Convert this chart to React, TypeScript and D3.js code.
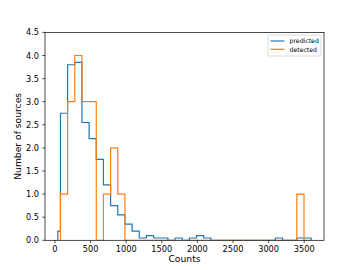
import React from "react";
import * as d3 from "d3";

// histogram bins (counts), shared by both series
const binStart = 77;
const binWidth = 100.6;
const binCount = 35;

// predicted: one short leading bin, then the regular bins
const predictedLead = [40, 0.2];
const predicted = [
  2.75, 3.8, 3.85, 2.55, 2.2, 1.75, 1.2, 0.75, 0.55, 0.35,
  0.2, 0.05, 0.1, 0.05, 0.05, 0, 0.05, 0, 0.05, 0.1,
  0.05, 0, 0, 0, 0, 0, 0, 0, 0, 0,
  0.05, 0, 0, 0.05, 0.05,
];
const detected = [
  1, 3, 4, 3, 3, 0, 1, 2, 1, 0,
  0, 0, 0, 0, 0, 0, 0, 0, 0, 0,
  0, 0, 0, 0, 0, 0, 0, 0, 0, 0,
  0, 0, 0, 1, 0,
];

const xTicks = [0, 500, 1000, 1500, 2000, 2500, 3000, 3500];
const yTicks = [0, 0.5, 1, 1.5, 2, 2.5, 3, 3.5, 4, 4.5];
const seriesNames = ["predicted", "detected"];
const colors = ["#1f77b4", "#ff7f0e"];

const W = 360;
const H = 270;
const margin = { left: 45, right: 324, top: 32.4, bottom: 240.3 };

function stepPoints(edges: number[], values: number[]): [number, number][] {
  const pts: [number, number][] = [[edges[0], 0]];
  values.forEach((v, i) => {
    pts.push([edges[i], v]);
    pts.push([edges[i + 1], v]);
  });
  pts.push([edges[edges.length - 1], 0]);
  return pts;
}

export default function App() {
  const x = d3.scaleLinear().domain([-140, 3778]).range([margin.left, margin.right]);
  const y = d3.scaleLinear().domain([0, 4.5]).range([margin.bottom, margin.top]);

  const edges = d3.range(binCount + 1).map((i) => binStart + i * binWidth);
  const blueEdges = [predictedLead[0], ...edges];
  const blueValues = [predictedLead[1], ...predicted];

  const line = d3
    .line<[number, number]>()
    .x((d) => x(d[0]))
    .y((d) => y(d[1]));

  const bluePath = line(stepPoints(blueEdges, blueValues)) || "";
  const orangePath = line(stepPoints(edges, detected)) || "";

  const font = "DejaVu Sans";
  const tickSize = 8.2;

  return (
    <svg
      width={W}
      height={H}
      style={{ position: "absolute", left: 0, top: 0, background: "white" }}
      fontFamily={font}
    >
      <defs>
        <clipPath id="plot">
          <rect
            x={margin.left}
            y={margin.top}
            width={margin.right - margin.left}
            height={margin.bottom - margin.top}
          />
        </clipPath>
      </defs>
      <rect width={W} height={H} fill="white" />

      <g clipPath="url(#plot)" fill="none" strokeWidth={1.2} strokeLinejoin="miter">
        <path d={bluePath} stroke={colors[0]} />
        <path d={orangePath} stroke={colors[1]} />
      </g>

      {/* spines */}
      <rect
        x={margin.left}
        y={margin.top}
        width={margin.right - margin.left}
        height={margin.bottom - margin.top}
        fill="none"
        stroke="#000"
        strokeWidth={0.7}
      />

      {/* x axis */}
      {xTicks.map((t) => (
        <g key={"x" + t}>
          <line
            x1={x(t)}
            x2={x(t)}
            y1={margin.bottom}
            y2={margin.bottom + 2.7}
            stroke="#000"
            strokeWidth={0.7}
          />
          <text x={x(t)} y={252} fontSize={tickSize} textAnchor="middle" fill="#000">
            {t}
          </text>
        </g>
      ))}
      <text x={(margin.left + margin.right) / 2} y={262} fontSize={9.2} textAnchor="middle">
        Counts
      </text>

      {/* y axis */}
      {yTicks.map((t) => (
        <g key={"y" + t}>
          <line
            x1={margin.left - 2.7}
            x2={margin.left}
            y1={y(t)}
            y2={y(t)}
            stroke="#000"
            strokeWidth={0.7}
          />
          <text
            x={margin.left - 6}
            y={y(t) + 3}
            fontSize={tickSize}
            textAnchor="end"
            fill="#000"
          >
            {t.toFixed(1)}
          </text>
        </g>
      ))}
      <text
        transform={`translate(21,${(margin.top + margin.bottom) / 2}) rotate(-90)`}
        fontSize={9.2}
        textAnchor="middle"
      >
        Number of sources
      </text>

      {/* legend */}
      <g>
        <rect
          x={268}
          y={35}
          width={53}
          height={21}
          rx={1.5}
          fill="white"
          fillOpacity={0.8}
          stroke="#ccc"
          strokeWidth={0.7}
        />
        {seriesNames.map((name, i) => (
          <g key={name}>
            <line
              x1={270.5}
              x2={284.5}
              y1={41 + i * 8.3}
              y2={41 + i * 8.3}
              stroke={colors[i]}
              strokeWidth={1.2}
            />
            <text x={289.5} y={43.2 + i * 8.3} fontSize={6.2} fill="#000">
              {name}
            </text>
          </g>
        ))}
      </g>
    </svg>
  );
}
